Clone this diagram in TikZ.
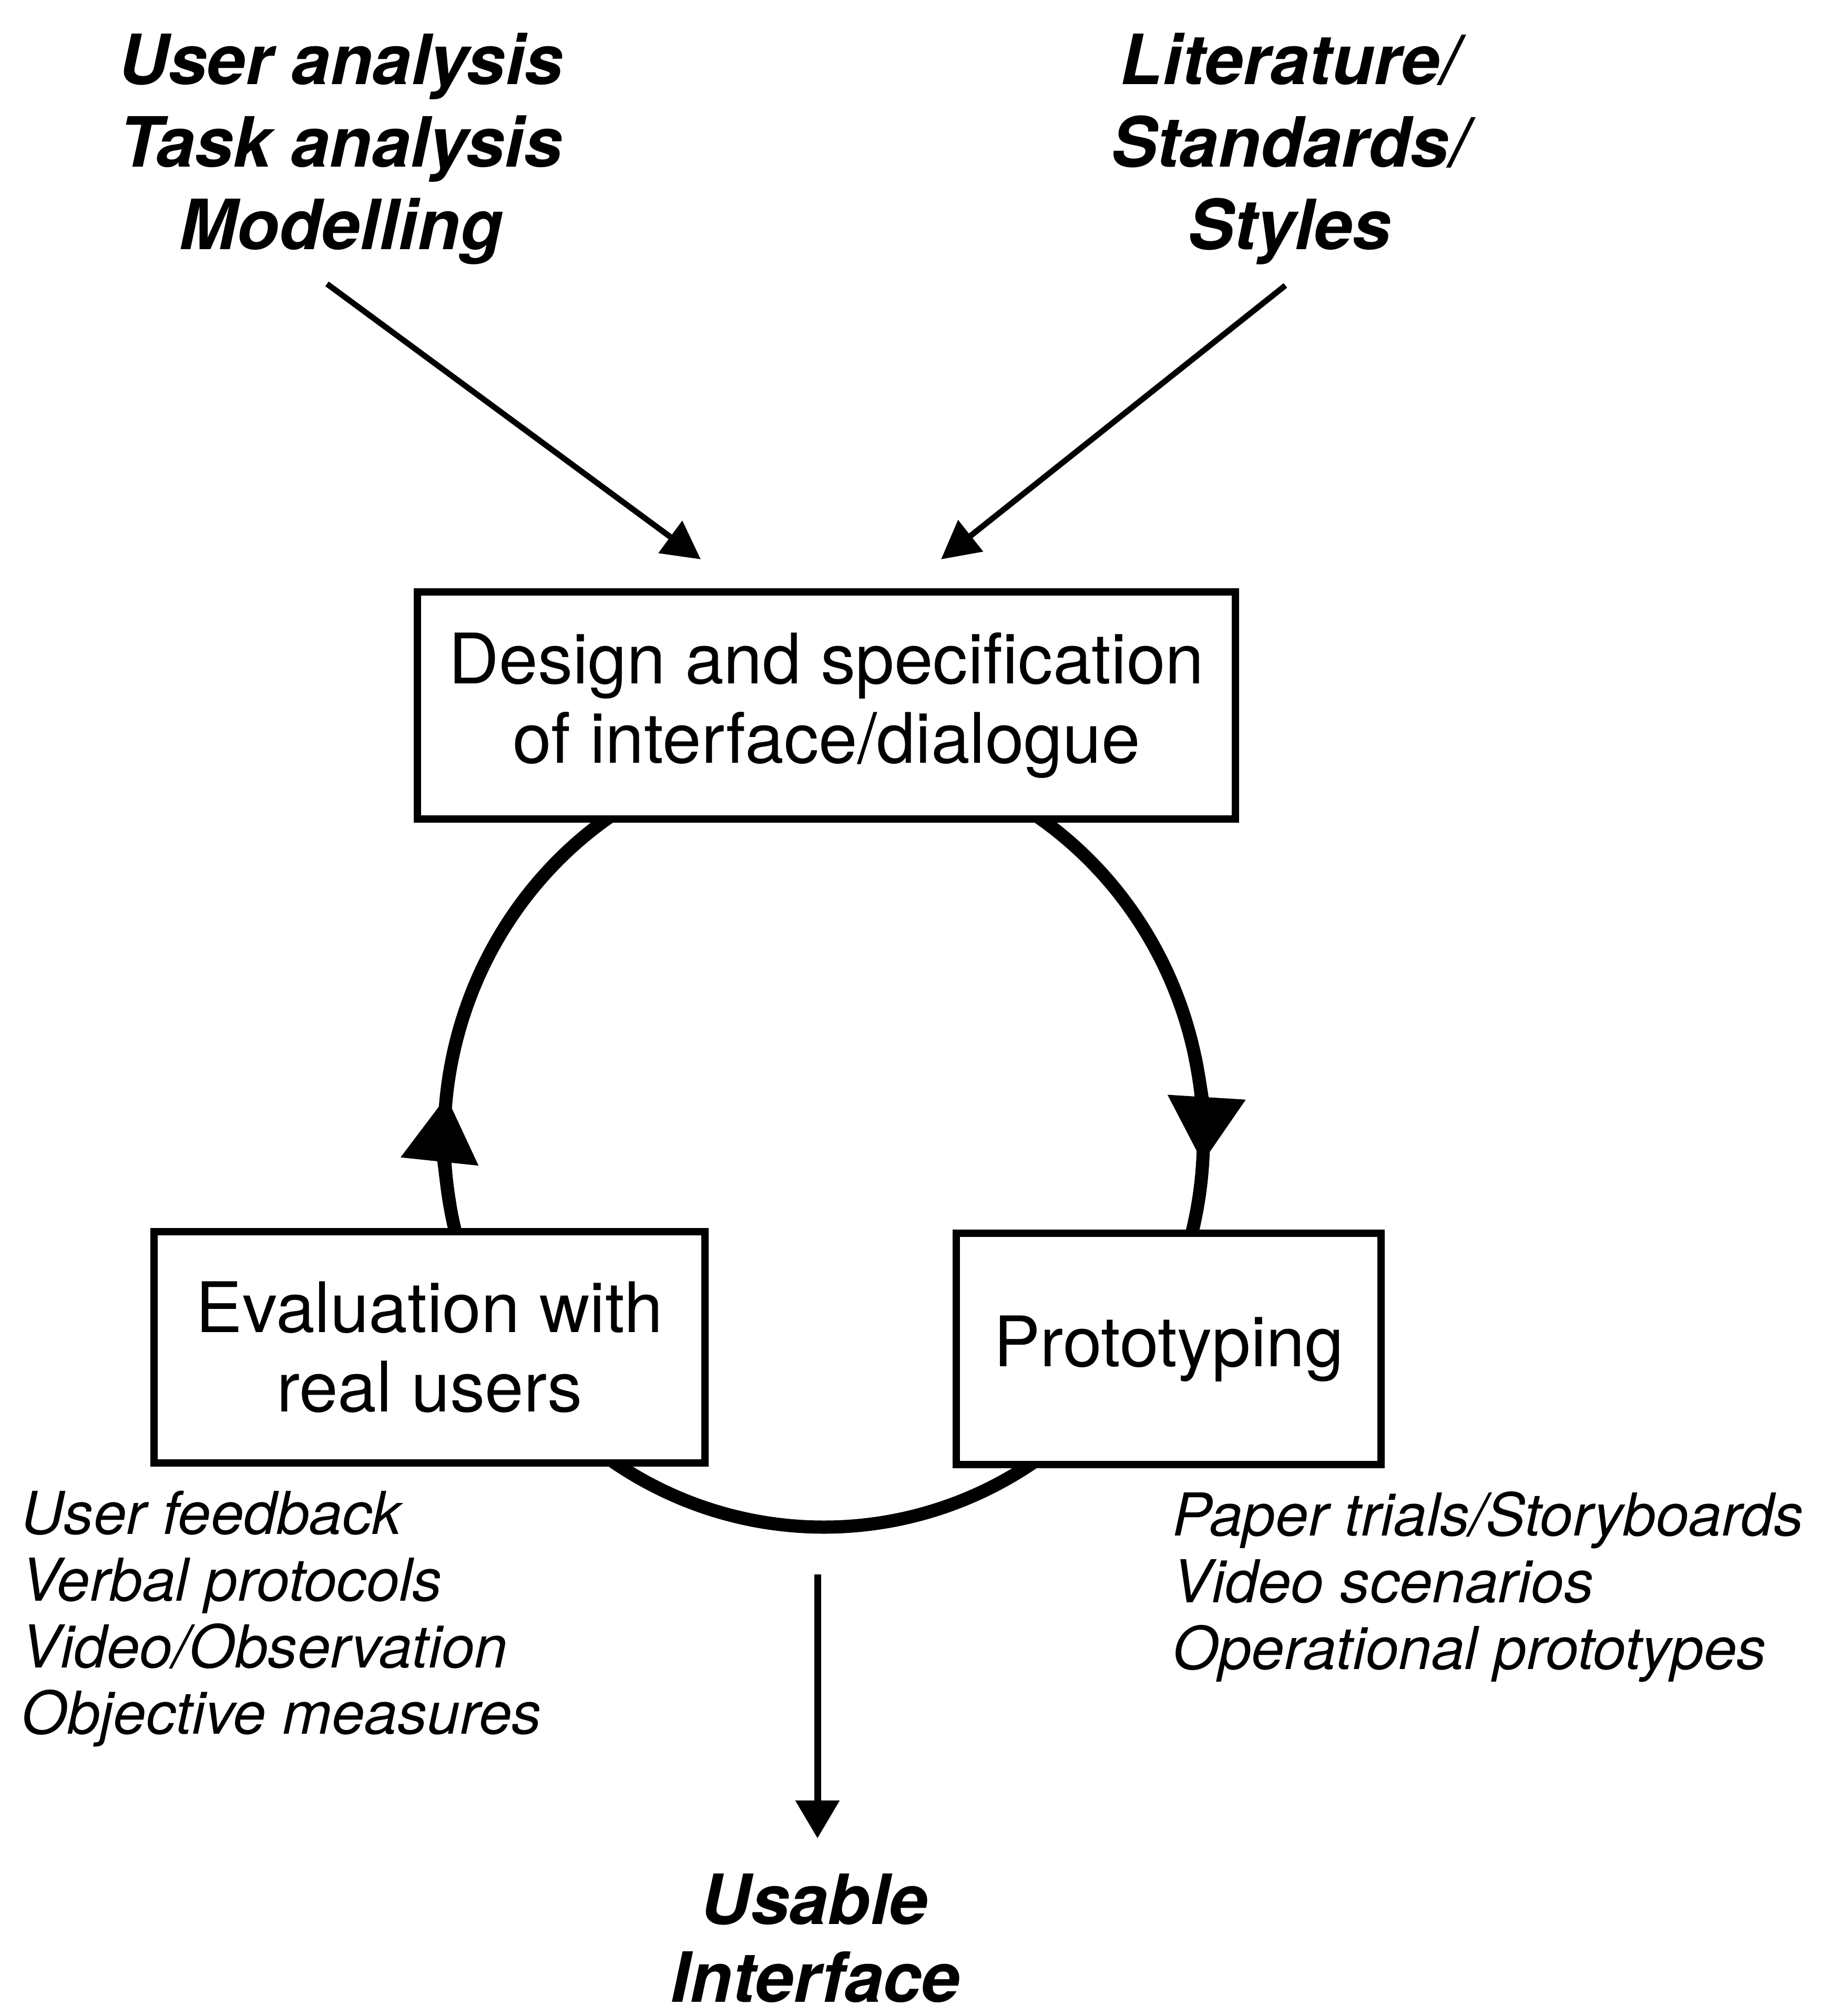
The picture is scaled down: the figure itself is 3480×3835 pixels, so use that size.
\documentclass[tikz,border=0pt]{standalone}
\usepackage{fontspec}
\setmainfont{TeX Gyre Heros}
\usetikzlibrary{arrows.meta}
\pgfdeclarelayer{background}
\pgfsetlayers{background,main}
\begin{document}
\begin{tikzpicture}[x=0.01cm,y=0.01cm,
  boxn/.style={draw, line width=0.14cm, fill=white, inner sep=0pt, align=center,
    font={\fontsize{37.7}{43}\selectfont}},
  head/.style={inner sep=0pt, align=center, anchor=north,
    font={\fontsize{37.5}{44.7}\selectfont\bfseries\itshape}},
  headline/.style={inner sep=0pt, anchor=base,
    font={\fontsize{37.5}{44.7}\selectfont\bfseries\itshape}},
  list/.style={inner sep=0pt, align=left, anchor=north west,
    font={\fontsize{32}{36.1}\selectfont\itshape}},
  feed/.style={line width=0.11cm, -{Triangle[length=0.72cm,width=0.74cm]}},
  outarrow/.style={line width=0.13cm, -{Triangle[length=0.72cm,width=0.81cm]}},
  loopline/.style={line width=0.25cm},
  looptip/.style={-{Triangle[length=1.25cm,width=1.42cm]}}
]
\useasboundingbox (0,0) rectangle (3480,-3835);

% text blocks
\node[head] (ua) at (648,-62) {User analysis\\Task analysis\\Modelling};
\node[head] (lit) at (2453,-62) {Literature/\\Standards/\\Styles};

% boxes
\node[boxn, minimum width=15.56cm, minimum height=4.32cm] (design) at (1572,-1342)
  {Design and specification\\of interface/dialogue};
\node[boxn, minimum width=10.48cm, minimum height=4.39cm] (eval) at (817,-2563)
  {Evaluation with\\real users};
\node[boxn, minimum width=8.08cm, minimum height=4.39cm] (proto) at (2223,-2566)
  {Prototyping};

% lists
\node[list] (evlist) at (40,-2835)
  {User feedback\\Verbal protocols\\Video/Observation\\Objective measures};
\node[list] (prlist) at (2230,-2837)
  {Paper trials/Storyboards\\Video scenarios\\Operational prototypes};

\node[headline] (usable) at (1549,-3660) {Usable};
\node[headline] (interface) at (1551,-3808) {Interface};

% connector ends
\coordinate (a1s) at (622,-540);
\coordinate (a1e) at (1333,-1064);
\coordinate (a2s) at (2445,-543);
\coordinate (a2e) at (1790,-1064);
\coordinate (d1) at (1555,-2995);
\coordinate (d2) at (1555,-3497);
\coordinate (ctr) at (1567,-2165);

\draw[feed] (a1s) -- (a1e);
\draw[feed] (a2s) -- (a2e);
\draw[outarrow] (d1) -- (d2);

\begin{pgfonlayer}{background}
  % left arc: evaluation -> design
  \draw[loopline] ([shift={(200:722 and 740)}]ctr)
    arc[start angle=200, end angle=120, x radius=722, y radius=740];
  \draw[loopline, looptip] ([shift={(190:722 and 740)}]ctr)
    arc[start angle=190, end angle=173.8, x radius=722, y radius=740];
  % right arc: design -> prototyping
  \draw[loopline] ([shift={(60:722 and 740)}]ctr)
    arc[start angle=60, end angle=-20, x radius=722, y radius=740];
  \draw[loopline, looptip] ([shift={(12:722 and 740)}]ctr)
    arc[start angle=12, end angle=-3.64, x radius=722, y radius=740];
  % bottom arc: prototyping -> evaluation
  \draw[loopline] ([shift={(-50:722 and 740)}]ctr)
    arc[start angle=-50, end angle=-130, x radius=722, y radius=740];
\end{pgfonlayer}
\end{tikzpicture}
\end{document}
